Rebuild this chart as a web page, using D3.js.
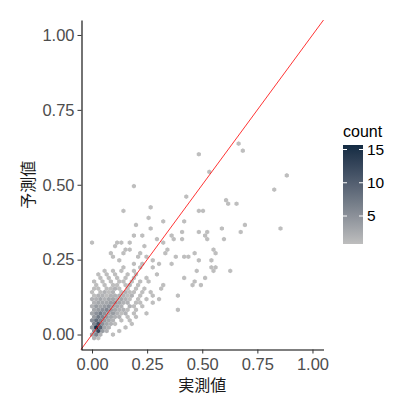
<!DOCTYPE html>
<html>
<head>
<meta charset="utf-8">
<script src="https://cdn.jsdelivr.net/npm/d3@7"></script>
<style>
  body { margin: 0; background: #fff; }
  svg { display: block; font-family: "Liberation Sans", Arial, sans-serif; }
</style>
</head>
<body>
<div id="chart"></div>
<script>
const cells = [
  [0.005,-0.012,2],[0.025,-0.012,1],
  [0.0,0.0,3],[0.019,0.0,6],[0.038,0.0,2],[0.095,0.0,1],
  [0.01,0.012,5],[0.029,0.012,12],[0.048,0.012,4],[0.067,0.012,2],[0.124,0.012,1],
  [0.0,0.024,4],[0.019,0.024,15],[0.038,0.024,9],[0.057,0.024,3],[0.076,0.024,2],[0.152,0.024,1],
  [0.01,0.035,6],[0.029,0.035,11],[0.048,0.035,5],[0.067,0.035,3],[0.086,0.035,2],[0.105,0.035,1],[0.18,0.035,1],
  [0.0,0.047,5],[0.019,0.047,8],[0.038,0.047,6],[0.057,0.047,4],[0.076,0.047,3],[0.095,0.047,2],[0.133,0.047,1],[0.171,0.047,1],
  [0.01,0.059,4],[0.029,0.059,7],[0.048,0.059,6],[0.067,0.059,4],[0.086,0.059,3],[0.105,0.059,2],[0.124,0.059,2],[0.162,0.059,1],[0.2,0.059,1],
  [0.0,0.071,3],[0.019,0.071,5],[0.038,0.071,7],[0.057,0.071,5],[0.076,0.071,3],[0.095,0.071,4],[0.114,0.071,2],[0.133,0.071,1],[0.152,0.071,2],[0.19,0.071,1],[0.247,0.071,1],
  [0.01,0.083,3],[0.029,0.083,4],[0.048,0.083,5],[0.067,0.083,6],[0.086,0.083,4],[0.105,0.083,3],[0.124,0.083,2],[0.143,0.083,2],[0.162,0.083,1],[0.2,0.083,1],[0.38,0.083,1],
  [0.0,0.094,2],[0.019,0.094,4],[0.038,0.094,3],[0.057,0.094,4],[0.076,0.094,5],[0.095,0.094,3],[0.114,0.094,3],[0.133,0.094,2],[0.171,0.094,2],[0.19,0.094,1],[0.228,0.094,1],
  [0.01,0.106,2],[0.029,0.106,3],[0.048,0.106,3],[0.067,0.106,3],[0.086,0.106,4],[0.105,0.106,4],[0.124,0.106,3],[0.143,0.106,2],[0.162,0.106,2],[0.2,0.106,1],[0.22,0.106,1],[0.27,0.106,1],
  [0.0,0.118,2],[0.019,0.118,2],[0.038,0.118,3],[0.057,0.118,2],[0.076,0.118,3],[0.095,0.118,3],[0.114,0.118,2],[0.133,0.118,3],[0.152,0.118,2],[0.171,0.118,1],[0.209,0.118,1],[0.247,0.118,1],[0.3,0.118,1],
  [0.01,0.130,1],[0.029,0.130,2],[0.048,0.130,2],[0.067,0.130,1],[0.086,0.130,2],[0.105,0.130,2],[0.124,0.130,2],[0.143,0.130,2],[0.162,0.130,1],[0.181,0.130,2],[0.22,0.130,1],[0.27,0.130,1],[0.38,0.130,1],
  [0.0,0.141,1],[0.038,0.141,1],[0.057,0.141,2],[0.076,0.141,1],[0.095,0.141,2],[0.133,0.141,1],[0.152,0.141,2],[0.171,0.141,1],[0.19,0.141,1],[0.228,0.141,1],[0.266,0.141,1],
  [0.01,0.153,1],[0.029,0.153,1],[0.067,0.153,1],[0.086,0.153,1],[0.105,0.153,2],[0.124,0.153,1],[0.162,0.153,1],[0.2,0.153,1],[0.24,0.153,1],[0.32,0.153,1],
  [0.019,0.165,1],[0.057,0.165,1],[0.095,0.165,1],[0.114,0.165,1],[0.143,0.165,1],[0.171,0.165,2],[0.209,0.165,1],[0.32,0.165,1],[0.45,0.165,1],[0.49,0.165,1],
  [0.01,0.177,1],[0.048,0.177,1],[0.086,0.177,1],[0.124,0.177,1],[0.143,0.177,1],[0.181,0.177,1],[0.22,0.177,1],[0.258,0.177,1],[0.47,0.177,1],
  [0.038,0.189,1],[0.076,0.189,1],[0.114,0.189,1],[0.152,0.189,1],[0.19,0.189,1],[0.24,0.189,1],[0.415,0.189,1],[0.505,0.189,1],
  [0.029,0.200,1],[0.067,0.200,1],[0.105,0.200,1],[0.16,0.200,1],[0.2,0.200,1],[0.3,0.200,1],
  [0.048,0.212,1],[0.1,0.212,1],[0.134,0.212,1],[0.19,0.212,1],[0.475,0.212,1],[0.543,0.212,1],[0.635,0.212,1],
  [0.149,0.224,1],[0.22,0.224,1],[0.27,0.224,1],[0.543,0.224,1],[0.556,0.224,1],
  [0.197,0.236,1],[0.235,0.236,1],[0.3,0.236,1],[0.366,0.236,1],
  [0.127,0.248,1],[0.271,0.248,1],[0.49,0.248,1],[0.54,0.248,1],
  [0.095,0.259,1],[0.215,0.259,1],[0.25,0.259,1],[0.385,0.259,1],[0.409,0.259,1],[0.433,0.259,1],
  [0.084,0.271,1],[0.136,0.271,1],[0.219,0.271,1],[0.335,0.271,1],[0.467,0.271,1],[0.556,0.271,1],
  [0.146,0.283,1],[0.18,0.283,1],[0.35,0.283,1],[0.547,0.283,1],
  [0.107,0.295,1],[0.243,0.295,1],
  [0.005,0.307,1],[0.107,0.307,1],[0.137,0.307,1],[0.163,0.307,1],[0.324,0.307,1],
  [0.3,0.321,1],[0.371,0.321,1],[0.405,0.321,1],[0.513,0.321,1],[0.6,0.321,1],
  [0.193,0.333,1],[0.222,0.333,1],[0.365,0.333,1],[0.505,0.333,1],
  [0.4,0.345,1],[0.486,0.345,1],[0.513,0.345,1],[0.671,0.345,1],
  [0.264,0.357,1],[0.593,0.357,1],[0.849,0.357,1],
  [0.199,0.370,1],[0.698,0.370,1],
  [0.321,0.383,1],[0.421,0.383,1],
  [0.258,0.394,1],
  [0.151,0.408,1],[0.493,0.408,1],[0.505,0.408,1],
  [0.258,0.420,1],
  [0.621,0.432,1],[0.650,0.432,1],
  [0.600,0.444,1],
  [0.434,0.456,1],
  [0.820,0.482,1],
  [0.199,0.494,1],
  [0.891,0.531,1],
  [0.529,0.543,1],
  [0.478,0.606,1],
  [0.686,0.618,1],
  [0.659,0.641,1]
];

const xTicks = [0, 0.25, 0.5, 0.75, 1];
const yTicks = [0, 0.25, 0.5, 0.75, 1];
const countTicks = [5, 10, 15];
const countRange = [1, 15];
const xTitle = "実測値";
const yTitle = "予測値";
const legendTitle = "count";

const width = 394, height = 403;
const binW = 0.019, binH = 0.0118;

const svg = d3.select("#chart").append("svg")
  .attr("width", width)
  .attr("height", height);

svg.append("rect").attr("width", width).attr("height", height).attr("fill", "#fff");

const x = d3.scaleLinear().domain([-0.05, 1.05]).range([81, 323.5]);
const y = d3.scaleLinear().domain([-0.05, 1.05]).range([349.5, 20]);

const color = d3.scaleLinear()
  .domain(countRange)
  .range(["#BEBEBE", "#132B43"])
  .interpolate(d3.interpolateLab);

// snap each read-off cell onto the hex grid
const grid = new Map();
cells.forEach(([cx, cy, n]) => {
  const j = Math.round(cy / binH);
  const off = (Math.abs(j) % 2 === 1) ? binW / 2 : 0;
  const i = Math.round((cx - off) / binW);
  const key = i + "," + j;
  const prev = grid.get(key);
  if (!prev || prev.n < n) grid.set(key, { x: i * binW + off, y: j * binH, n: n });
});
const hexes = Array.from(grid.values()).sort((a, b) => a.n - b.n);

// hexagon in pixel space, pointy top
const hw = (x(binW) - x(0)) / 2;
const hh = (y(0) - y(binH)) / 3;
const hexPath = `M0,${-2 * hh}L${hw},${-hh}L${hw},${hh}L0,${2 * hh}L${-hw},${hh}L${-hw},${-hh}Z`;

const panel = svg.append("g");
panel.selectAll("path.hex")
  .data(hexes)
  .join("path")
  .attr("class", "hex")
  .attr("d", hexPath)
  .attr("transform", d => `translate(${x(d.x)},${y(d.y)})`)
  .attr("fill", d => color(d.n));

// y = x reference line
panel.append("line")
  .attr("x1", x(-0.05)).attr("y1", y(-0.05))
  .attr("x2", x(1.05)).attr("y2", y(1.05))
  .attr("stroke", "#FF0000")
  .attr("stroke-width", 0.8);

// axes
const fmt = d3.format(".2f");
const gx = svg.append("g")
  .attr("transform", "translate(0,349.5)")
  .call(d3.axisBottom(x).tickValues(xTicks).tickFormat(fmt).tickSize(4).tickSizeOuter(0).tickPadding(3));
const gy = svg.append("g")
  .attr("transform", "translate(81.5,0)")
  .call(d3.axisLeft(y).tickValues(yTicks).tickFormat(fmt).tickSize(4).tickSizeOuter(0).tickPadding(3));

[gx, gy].forEach(g => {
  g.select(".domain").attr("stroke", "#000").attr("stroke-width", 1.1);
  g.selectAll(".tick line").attr("stroke", "#333");
  g.selectAll(".tick text")
    .attr("fill", "#4D4D4D")
    .style("font-size", "16.5px")
    .style("font-family", "'Liberation Sans', Arial, sans-serif");
});
gx.selectAll(".tick text").attr("dy", "0.8em");

svg.append("text")
  .attr("x", (x(-0.05) + x(1.05)) / 2)
  .attr("y", 391)
  .attr("text-anchor", "middle")
  .style("font-family", "'Noto Sans CJK JP', sans-serif")
  .style("font-size", "16px")
  .attr("fill", "#1a1a1a")
  .text(xTitle);

svg.append("text")
  .attr("transform", `translate(34,${(y(-0.05) + y(1.05)) / 2}) rotate(-90)`)
  .attr("text-anchor", "middle")
  .style("font-family", "'Noto Sans CJK JP', sans-serif")
  .style("font-size", "16px")
  .attr("fill", "#1a1a1a")
  .text(yTitle);

// colour bar legend
const barX = 343, barTop = 145, barW = 20, barH = 99;
const defs = svg.append("defs");
const grad = defs.append("linearGradient")
  .attr("id", "countGrad")
  .attr("x1", 0).attr("y1", 1).attr("x2", 0).attr("y2", 0);
d3.range(0, 1.0001, 0.1).forEach(t => {
  grad.append("stop")
    .attr("offset", t)
    .attr("stop-color", color(countRange[0] + t * (countRange[1] - countRange[0])));
});

const legend = svg.append("g");
legend.append("text")
  .attr("x", barX)
  .attr("y", 137)
  .style("font-size", "16px")
  .attr("fill", "#000")
  .text(legendTitle);

legend.append("rect")
  .attr("x", barX).attr("y", barTop)
  .attr("width", barW).attr("height", barH)
  .attr("fill", "url(#countGrad)");

const ly = d3.scaleLinear().domain(countRange).range([242.6, 149.5]);
const lt = legend.selectAll("g.lt").data(countTicks).join("g").attr("class", "lt");
lt.append("line")
  .attr("x1", barX).attr("x2", barX + 4)
  .attr("y1", d => ly(d)).attr("y2", d => ly(d))
  .attr("stroke", "#fff");
lt.append("line")
  .attr("x1", barX + barW - 4).attr("x2", barX + barW)
  .attr("y1", d => ly(d)).attr("y2", d => ly(d))
  .attr("stroke", "#fff");
lt.append("text")
  .attr("x", barX + barW + 4)
  .attr("y", d => ly(d))
  .attr("dy", "0.35em")
  .style("font-size", "15.5px")
  .attr("fill", "#000")
  .text(d => d);
</script>
</body>
</html>
